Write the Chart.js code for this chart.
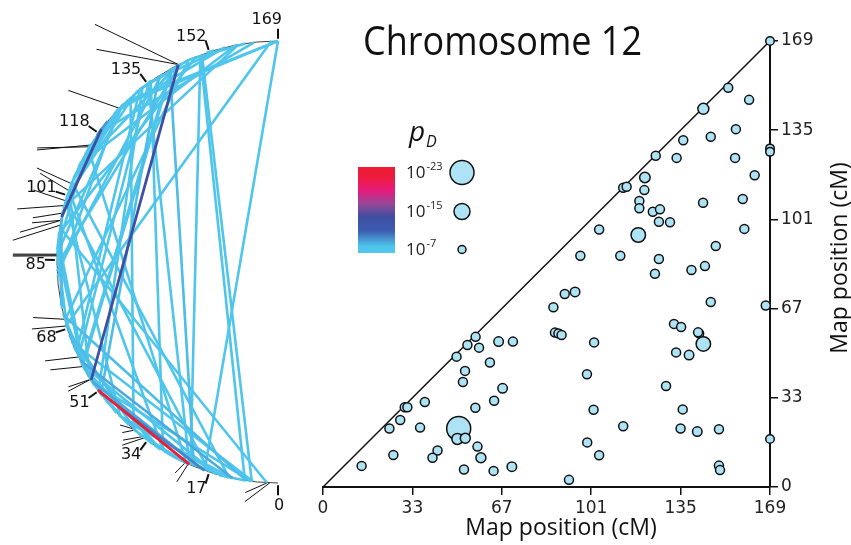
<!DOCTYPE html>
<html>
<head>
<meta charset="utf-8">
<script src="https://cdn.jsdelivr.net/npm/chart.js@4.4.1/dist/chart.umd.min.js"></script>
<style>
    html, body { margin: 0; padding: 0; background: #fff; }
    #wrap { position: relative; width: 851px; height: 545px; }
    #wrap canvas { position: absolute; left: 0; top: 0; }
</style>
</head>
<body>
<div id="wrap">
    <canvas id="arcChart" width="320" height="545"></canvas>
    <canvas id="mapChart" width="851" height="545"></canvas>
</div>
<script>
/* ============================================
   Chromosome 12 - linkage pairs (arc + triangle)
   ============================================ */

const MAP_LEN = 169;

// marker pairs: higher map position, lower map position (cM), -log10(pD)
const posHigh = [
    57.7, 54.6, 59.0, 50.5, 63.1, 53.7, 52.9, 30.9, 31.9, 38.5,
    57.6, 29.2, 25.1, 36.7, 51.3, 50.8, 53.8, 58.4, 59.7, 43.3,
    41.4, 26.6, 14.6, 53.3, 66.4, 71.8, 67.9, 64.7, 64.5, 71.4,
    87.7, 89.0, 90.2, 102.5, 99.8, 102.3, 113.5, 99.9, 104.4, 93.0,
    132.7, 135.4, 142.2, 141.8, 143.8, 133.5, 138.4, 129.7, 136.0, 135.2,
    141.5, 149.7, 169, 149.7, 150.1, 113.5, 114.8, 104.4, 97.3, 112.4,
    91.4, 95.3, 87.1, 121.7, 121.5, 119.6, 119.6, 124.7, 127.4, 127.0,
    131.2, 119.2, 127.0, 125.5, 139.3, 144.4, 148.5, 143.7, 158.7, 159.3,
    163.2, 146.6, 167.4, 169, 153.2, 161.1, 143.8, 156.1, 146.6, 136.2,
    125.8, 133.7, 155.8, 169, 169
];
const posLow = [
    56.9, 53.8, 52.8, 49.4, 47.2, 44.0, 39.8, 30.2, 30.2, 32.2,
    30.0, 25.4, 22.2, 22.5, 22.2, 18.2, 18.5, 15.3, 11.1, 13.8,
    11.1, 12.1, 8.0, 6.6, 55.1, 55.1, 37.4, 32.7, 6.1, 7.7,
    58.5, 58.2, 57.6, 54.8, 42.7, 29.3, 23.0, 16.9, 12.0, 2.7,
    61.8, 60.6, 58.2, 58.6, 54.2, 51.0, 50.0, 38.3, 29.4, 22.2,
    21.0, 21.9, 18.2, 8.1, 6.4, 113.4, 113.8, 97.6, 87.6, 87.6,
    73.1, 73.9, 68.1, 117.3, 112.5, 108.4, 105.6, 104.3, 105.2, 100.5,
    100.3, 95.5, 86.4, 80.8, 82.2, 83.7, 91.3, 107.7, 109.1, 97.8,
    118.1, 70.1, 68.8, 169, 151.3, 146.7, 143.3, 135.6, 132.7, 131.4,
    125.5, 124.7, 124.7, 128.3, 127.0
];
const negLogP = [
    8, 8, 8, 8, 8, 8, 8, 8, 8, 8,
    8, 8, 8, 8, 23, 10, 9, 8, 9, 8,
    8, 8, 8, 8, 8.5, 8, 8.5, 8, 8, 8.5,
    8, 8, 8, 8, 8, 8, 8, 8, 8, 8,
    8, 8, 8, 8, 13.5, 8, 8.5, 8, 8, 8,
    8.5, 8, 7.5, 8, 8, 8, 8, 8, 8, 8,
    8, 8.5, 8, 9.5, 8, 8, 8, 8, 8, 8,
    8, 13.5, 8, 8, 8, 8, 8, 8, 8, 8,
    8, 8, 8, 7.5, 8, 8, 10, 8, 8, 8,
    8, 8, 8, 7.5, 7.5
];

// triangle axes
const tickValues = [0, 33.8, 67.6, 101.4, 135.2, 169];
const tickLabels = ['0', '33', '67', '101', '135', '169'];

// arc ticks
const arcTicks = [0, 17, 34, 51, 68, 85, 101, 118, 135, 152, 169];

// pD legend exponents
const legendExps = [23, 15, 7];

// marker lines outside the arc: from map position, to outer position, outer radius
const spikeFrom = [143.9, 143.9, 125.9, 114.5, 114.0, 104.0, 102.2, 99.6, 98.4, 96.5,
    94.7, 94.7, 93.5, 86.0, 86.2, 86.4, 70.4, 68.7, 60.6, 58.0,
    54.4, 54.4, 38.5, 38.0, 35.0, 35.5, 23.3, 22.5, 2.6, 2.0];
const spikeTo = [133.7, 131.0, 121.4, 107.9, 108.3, 104.5, 103.7, 99.9, 95.3, 94.1,
    93.0, 90.7, 88.9, 85.7, 85.9, 86.1, 72.5, 70.2, 62.9, 60.7,
    55.6, 54.8, 41.4, 39.8, 37.9, 38.5, 24.4, 23.2, 7.6, 7.4];
const spikeRad = [1.357, 1.265, 1.226, 1.203, 1.206, 1.171, 1.149, 1.154, 1.204, 1.127,
    1.127, 1.175, 1.204, 1.2, 1.2, 1.2, 1.136, 1.154, 1.145, 1.14,
    1.104, 1.115, 1.027, 1.045, 1.088, 1.068, 1.062, 1.095, 1.054, 1.095];

// colour scale, top (10^-23) to bottom (10^-7)
const gradStops = [
    [0.00, [237, 28, 52]],
    [0.12, [237, 28, 62]],
    [0.27, [230, 26, 122]],
    [0.43, [150, 72, 152]],
    [0.58, [62, 78, 160]],
    [0.74, [60, 92, 176]],
    [0.92, [78, 196, 236]],
    [1.00, [82, 200, 238]]
];
const BUBBLE_FILL = '#aee3f5';
const INK = '#111';

function pColor(e) {
    const t = Math.min(1, Math.max(0, 1 - (e - 7) / 16));
    for (let i = 1; i < gradStops.length; i++) {
        const [t1, c1] = gradStops[i];
        const [t0, c0] = gradStops[i - 1];
        if (t <= t1) {
            const f = (t - t0) / (t1 - t0);
            const c = c0.map((v, k) => Math.round(v + (c1[k] - v) * f));
            return `rgb(${c[0]},${c[1]},${c[2]})`;
        }
    }
    return 'rgb(82,200,238)';
}
const pRadius = e => 4 + (e - 7) * 0.5;

function arcPoint(pos, rad = 1) {
    const a = Math.PI * pos / MAP_LEN;
    return { x: -rad * Math.sin(a), y: -rad * Math.cos(a) };
}

/* ---------- Left: arc diagram ---------- */
const order = negLogP.map((e, i) => i).sort((a, b) => negLogP[b] - negLogP[a]);
const chordSets = order.map(i => ({
    data: [arcPoint(posLow[i]), arcPoint(posHigh[i])],
    showLine: true,
    borderColor: pColor(negLogP[i]),
    borderWidth: negLogP[i] >= 13 ? 2.8 : 2.6,
    pointRadius: 0,
    clip: false
}));
const spikeSets = spikeFrom.map((p, i) => ({
    data: [arcPoint(p), arcPoint(spikeTo[i], spikeRad[i])],
    showLine: true,
    borderColor: INK,
    borderWidth: 1,
    pointRadius: 0,
    clip: false
}));

const arcDecor = {
    id: 'arcDecor',
    beforeDatasetsDraw(chart) {
        const { ctx, scales: { x, y } } = chart;
        const cx = x.getPixelForValue(0), cy = y.getPixelForValue(0);
        const r = x.getPixelForValue(1) - cx;
        ctx.save();
        ctx.strokeStyle = INK;
        ctx.lineWidth = 0.8;
        ctx.beginPath();
        ctx.arc(cx, cy, r, Math.PI / 2, Math.PI * 1.5);
        ctx.stroke();
        ctx.restore();
    },
    afterDatasetsDraw(chart) {
        const { ctx, scales: { x, y } } = chart;
        const px = p => ({ x: x.getPixelForValue(p.x), y: y.getPixelForValue(p.y) });
        ctx.save();
        ctx.strokeStyle = INK;
        ctx.fillStyle = INK;
        ctx.lineWidth = 2;
        ctx.font = '16px "DejaVu Sans"';
        arcTicks.forEach(t => {
            const a = px(arcPoint(t, 1.01));
            const b = px(arcPoint(t, 1.055));
            ctx.beginPath();
            ctx.moveTo(a.x, a.y);
            ctx.lineTo(b.x, b.y);
            ctx.stroke();
            if (t === 0) {
                ctx.textAlign = 'center';
                ctx.textBaseline = 'top';
                ctx.fillText(String(t), b.x + 1, b.y + 3);
            } else if (t === MAP_LEN) {
                ctx.textAlign = 'right';
                ctx.textBaseline = 'bottom';
                ctx.fillText(String(t), b.x + 4, b.y - 1);
            } else {
                ctx.textAlign = 'right';
                ctx.textBaseline = 'middle';
                ctx.fillText(String(t), b.x + 1, b.y + (t <= 85 ? 5 : -4));
            }
        });
        ctx.restore();
    }
};

new Chart(document.getElementById('arcChart'), {
    type: 'scatter',
    data: { datasets: chordSets.concat(spikeSets) },
    options: {
        responsive: false,
        animation: false,
        devicePixelRatio: 1,
        layout: { padding: 0 },
        plugins: { legend: { display: false }, tooltip: { enabled: false } },
        scales: {
            x: { display: false, min: -278 / 221, max: 42 / 221 },
            y: { display: false, min: -283 / 221, max: 262 / 221 }
        }
    },
    plugins: [arcDecor]
});

/* ---------- Right: triangle plot ---------- */
const bubbleData = posHigh.map((v, i) => ({ x: v, y: posLow[i], r: pRadius(negLogP[i]) }));

const mapDecor = {
    id: 'mapDecor',
    afterDraw(chart) {
        const { ctx } = chart;
        ctx.save();
        ctx.fillStyle = INK;

        // title
        ctx.font = '40px "Open Sans"';
        ctx.textBaseline = 'alphabetic';
        ctx.textAlign = 'left';
        const tw = ctx.measureText('Chromosome 12').width;
        ctx.save();
        ctx.translate(363, 55);
        ctx.scale(279 / tw, 1);
        ctx.fillText('Chromosome 12', 0, 0);
        ctx.restore();

        // axis titles
        ctx.font = '23px "Open Sans"';
        ctx.textAlign = 'center';
        ctx.textBaseline = 'middle';
        ctx.fillText('Map position (cM)', 561, 528);
        ctx.save();
        ctx.translate(840, 258);
        ctx.rotate(-Math.PI / 2);
        ctx.fillText('Map position (cM)', 0, 0);
        ctx.restore();

        // legend: pD
        ctx.textAlign = 'left';
        ctx.textBaseline = 'alphabetic';
        ctx.font = 'italic 28px "Open Sans"';
        ctx.fillText('p', 409, 141);
        ctx.font = 'italic 16px "Open Sans"';
        ctx.fillText('D', 426, 147);

        const bar = { l: 358, t: 167, w: 37, h: 86 };
        const g = ctx.createLinearGradient(0, bar.t, 0, bar.t + bar.h);
        gradStops.forEach(([s, c]) => g.addColorStop(s, `rgb(${c[0]},${c[1]},${c[2]})`));
        ctx.fillStyle = g;
        ctx.fillRect(bar.l, bar.t, bar.w, bar.h);

        const rows = [178, 217, 255];
        legendExps.forEach((e, i) => {
            const yb = rows[i];
            ctx.fillStyle = '#222';
            ctx.font = '17px "Open Sans"';
            ctx.fillText('10', 406, yb);
            const w10 = ctx.measureText('10').width;
            ctx.font = '11px "Open Sans"';
            ctx.fillText('-' + e, 406 + w10 + 1, yb - 8);
            ctx.beginPath();
            ctx.arc(462, yb - 5.5, pRadius(e), 0, Math.PI * 2);
            ctx.fillStyle = BUBBLE_FILL;
            ctx.fill();
            ctx.strokeStyle = INK;
            ctx.lineWidth = 1.5;
            ctx.stroke();
        });
        ctx.restore();
    }
};

const axisFont = { family: 'DejaVu Sans', size: 17 };

new Chart(document.getElementById('mapChart'), {
    type: 'bubble',
    data: {
        datasets: [
            {
                data: bubbleData,
                backgroundColor: BUBBLE_FILL,
                borderColor: INK,
                borderWidth: 1.5,
                clip: false
            },
            {
                type: 'line',
                data: [{ x: 0, y: 0 }, { x: MAP_LEN, y: MAP_LEN }],
                borderColor: INK,
                borderWidth: 1.5,
                pointRadius: 0,
                clip: false
            }
        ]
    },
    options: {
        responsive: false,
        animation: false,
        devicePixelRatio: 1,
        layout: { padding: { left: 323, top: 41, right: 0, bottom: 0 } },
        plugins: { legend: { display: false }, tooltip: { enabled: false } },
        scales: {
            x: {
                type: 'linear',
                position: 'bottom',
                min: 0,
                max: MAP_LEN,
                afterBuildTicks: s => { s.ticks = tickValues.map(v => ({ value: v })); },
                afterFit: s => { s.height = 58; },
                ticks: {
                    callback: (v, i) => tickLabels[i],
                    font: axisFont,
                    color: '#222',
                    padding: 3,
                    maxRotation: 0,
                    autoSkip: false
                },
                grid: { drawOnChartArea: false, drawTicks: true, tickLength: 8, color: INK, lineWidth: 1.5 },
                border: { display: true, color: INK, width: 2 }
            },
            y: {
                type: 'linear',
                position: 'right',
                min: 0,
                max: MAP_LEN,
                afterBuildTicks: s => { s.ticks = tickValues.map(v => ({ value: v })); },
                afterFit: s => { s.width = 81; },
                ticks: {
                    callback: (v, i) => tickLabels[i],
                    font: axisFont,
                    color: '#222',
                    padding: 3,
                    autoSkip: false
                },
                grid: { drawOnChartArea: false, drawTicks: true, tickLength: 8, color: INK, lineWidth: 1.5 },
                border: { display: true, color: INK, width: 2 }
            }
        }
    },
    plugins: [mapDecor]
});
</script>
</body>
</html>
